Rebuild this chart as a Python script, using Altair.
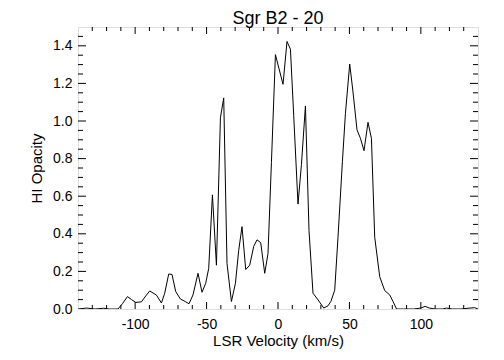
import altair as alt
import pandas as pd

velocity = [-140, -134, -128, -122, -118, -115, -112, -108.9, -105.4, -102.5, -99.6, -95.6,
            -92.5, -89.8, -85.1, -81.6, -79.3, -76.5, -74.2, -71.6, -68.3, -65, -62.3, -59.5,
            -56, -53.2, -50.6, -48.5, -45.9, -43.1, -40.3, -38, -35.7, -32.6, -29.8, -27.5,
            -25.2, -22.6, -19.8, -17, -14.7, -12.1, -9.3, -7, -4.6, -1.8, 3.5, 6.3, 8.7, 11,
            14, 16.4, 19.2, 21.7, 24.5, 28, 32, 35, 37, 39.7, 42, 45.1, 47.2, 50.2, 52.5, 55.3,
            57.7, 60.2, 63, 65.4, 67.7, 71.2, 74.7, 78.2, 80.5, 83, 88, 95, 100, 103, 106, 110,
            115, 118, 122, 128, 133, 137.7, 140]
opacity = [0.0, 0.005, 0.0, 0.004, 0.0, 0.0, 0.0, 0.028, 0.066, 0.05, 0.035, 0.038,
           0.07, 0.096, 0.074, 0.032, 0.084, 0.186, 0.184, 0.093, 0.053, 0.04, 0.028, 0.075,
           0.19, 0.089, 0.137, 0.216, 0.607, 0.233, 1.017, 1.123, 0.242, 0.04, 0.137, 0.312,
           0.438, 0.21, 0.233, 0.333, 0.368, 0.353, 0.19, 0.295, 0.78, 1.353, 1.195, 1.423, 1.382, 1.03,
           0.558, 0.768, 1.08, 0.417, 0.084, 0.049, 0.005, 0.017, 0.04, 0.1, 0.382, 0.786, 1.04, 1.303, 1.154, 0.953,
           0.908, 0.842, 0.993, 0.908, 0.382, 0.172, 0.098, 0.075, 0.04, 0.0, 0.0, 0.0, 0.005, 0.014, 0.005, 0.0,
           0.0, 0.005, 0.0, 0.0, 0.004, 0.007, 0.0]

x_major = [-100, -50, 0, 50, 100]
x_minor = [v for v in range(-130, 140, 10) if v % 50 != 0]
y_major = [0.2, 0.4, 0.6, 0.8, 1.0, 1.2, 1.4]
y_minor = [0.05, 0.1, 0.15, 0.25, 0.3, 0.35, 0.45, 0.5, 0.55, 0.65, 0.7, 0.75,
           0.85, 0.9, 0.95, 1.05, 1.1, 1.15, 1.25, 1.3, 1.35, 1.45]

W, H = 400, 282
FONT = "Liberation Sans"

xs = alt.Scale(domain=[-140, 140], nice=False, zero=False)
ys = alt.Scale(domain=[0, 1.5], nice=False, zero=False)

df = pd.DataFrame({"v": velocity, "tau": opacity})

line = alt.Chart(df).mark_line(color="black", strokeWidth=1, clip=True).encode(
    x=alt.X("v:Q", scale=xs, axis=alt.Axis(
        title="LSR Velocity (km/s)", values=x_major,
        labelExpr="datum.value < 0 ? '-' + format(-datum.value, 'd') : format(datum.value, 'd')",
        ticks=False, domain=False,
        grid=False, labelFont=FONT, labelFontSize=14, labelColor="black", labelPadding=8,
        titleFont=FONT, titleFontSize=15, titleFontWeight="normal", titleColor="black",
        titlePadding=2)),
    y=alt.Y("tau:Q", scale=ys, axis=alt.Axis(
        title="HI Opacity", values=[0.0] + y_major, format=".1f", ticks=False, domain=False,
        grid=False, labelFont=FONT, labelFontSize=14, labelColor="black", labelPadding=6,
        titleFont=FONT, titleFontSize=15, titleFontWeight="normal", titleColor="black",
        titlePadding=8)),
)


def xticks(vals, length):
    d = pd.DataFrame({"v": vals})
    bottom = alt.Chart(d).mark_rule(color="black", strokeWidth=1).encode(
        x=alt.X("v:Q", scale=xs, axis=None), y=alt.value(H), y2=alt.value(H - length))
    top = alt.Chart(d).mark_rule(color="black", strokeWidth=1).encode(
        x=alt.X("v:Q", scale=xs, axis=None), y=alt.value(0), y2=alt.value(length))
    return [bottom, top]


def yticks(vals, length):
    d = pd.DataFrame({"tau": vals})
    left = alt.Chart(d).mark_rule(color="black", strokeWidth=1).encode(
        y=alt.Y("tau:Q", scale=ys, axis=None), x=alt.value(0), x2=alt.value(length))
    right = alt.Chart(d).mark_rule(color="black", strokeWidth=1).encode(
        y=alt.Y("tau:Q", scale=ys, axis=None), x=alt.value(W), x2=alt.value(W - length))
    return [left, right]


layers = [line] + xticks(x_major, 7) + xticks(x_minor, 4) + yticks(y_major, 8) + yticks(y_minor, 5)

chart = alt.layer(*layers).resolve_axis(x="independent", y="independent").properties(
    width=W, height=H,
    title=alt.TitleParams("Sgr B2 - 20", fontSize=18, font=FONT, fontWeight="normal",
                          color="black", anchor="middle", offset=-1),
    autosize=alt.AutoSizeParams(type="none"),
    padding={"left": 70, "top": 19, "right": 10, "bottom": 42},
).configure_view(stroke="black", strokeWidth=1).configure(background="white")

chart.save("out.html", embed_options={"renderer": "svg", "actions": False})
